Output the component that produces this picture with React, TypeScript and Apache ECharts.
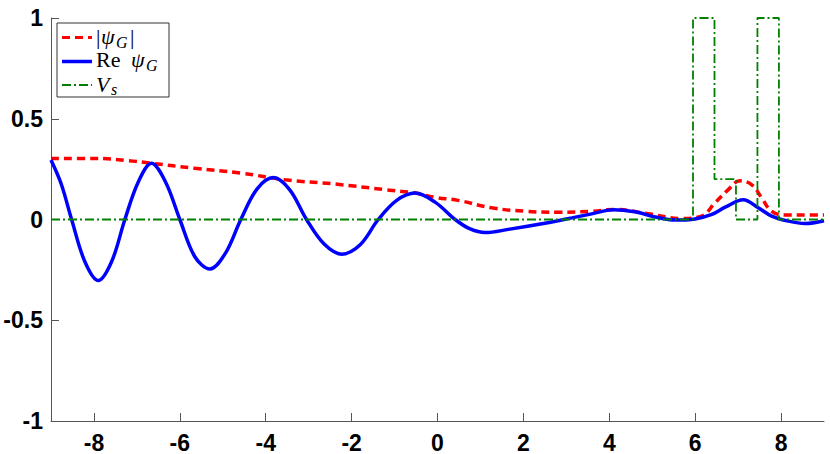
import React, { useEffect, useRef } from "react";
import * as echarts from "echarts";

const xTicks = [-8, -6, -4, -2, 0, 2, 4, 6, 8];

const absPsiX = [-9, -7.98, -7.2, -6.66, -5.65, -4.56, -3.55, -2.39, -1.22, -0.52, -0.06, 0.48, 1.26, 2.04, 2.81, 3.59, 4.13, 4.91, 5.69, 6.15, 6.46, 6.77, 7.04, 7.32, 7.55, 7.78, 8.09, 8.5, 9];
const absPsiY = [0.303, 0.303, 0.292, 0.279, 0.254, 0.23, 0.197, 0.176, 0.148, 0.131, 0.11, 0.095, 0.058, 0.041, 0.036, 0.041, 0.05, 0.028, 0.005, 0.017, 0.082, 0.148, 0.192, 0.172, 0.107, 0.041, 0.022, 0.022, 0.022];

const rePsiX = [-9, -8.76, -8.52, -8.21, -7.9, -7.59, -7.28, -6.97, -6.66, -6.33, -6.0, -5.65, -5.3, -4.94, -4.58, -4.2, -3.82, -3.44, -3.05, -2.64, -2.23, -1.8, -1.38, -0.95, -0.52, -0.05, 0.41, 0.76, 1.11, 1.65, 2.43, 3.13, 3.59, 4.09, 4.6, 5.07, 5.53, 6.0, 6.39, 6.7, 7.12, 7.47, 7.78, 8.17, 8.56, 9];
const rePsiY = [0.295, 0.175, 0.0, -0.21, -0.303, -0.21, 0.0, 0.185, 0.279, 0.185, 0.0, -0.185, -0.246, -0.168, 0.0, 0.152, 0.208, 0.147, 0.0, -0.122, -0.172, -0.125, 0.0, 0.095, 0.131, 0.085, 0.0, -0.047, -0.065, -0.049, -0.021, 0.008, 0.028, 0.049, 0.038, 0.012, -0.003, 0.003, 0.025, 0.061, 0.098, 0.058, 0.017, -0.008, -0.02, -0.006];

const vsX = [-9, 5.95, 5.95, 6.45, 6.45, 6.95, 6.95, 7.45, 7.45, 7.95, 7.95, 9];
const vsY = [0, 0, 1, 1, 0.2, 0.2, 0, 0, 1, 1, 0, 0];

const zip = (xs: number[], ys: number[]) => xs.map((x, i) => [x, ys[i]]);

const axisColor = "#555555";
const labelFont = {
  fontFamily: "'Liberation Sans', Arial, sans-serif",
  fontWeight: "bold" as const,
  fontSize: 23,
  color: "#000",
};

const serif = "'Liberation Serif', 'Times New Roman', serif";

export default function App() {
  const ref = useRef<HTMLDivElement>(null);
  useEffect(() => {
    if (!ref.current) return;
    const chart = echarts.init(ref.current, undefined, { renderer: "svg" });
    const txt = (text: string, x: number, y: number, size: number, italic: boolean) => ({
      type: "text",
      x,
      y,
      style: {
        text,
        font: `${italic ? "italic " : ""}${size}px ${serif}`,
        fill: "#000",
        textAlign: "left",
        textVerticalAlign: "middle",
        lineHeight: size,
      },
      z: 101,
    });
    const legLine = (y: number, color: string, width: number, dash: number[] | null) => ({
      type: "line",
      shape: { x1: 62, y1: y, x2: 92, y2: y },
      style: { stroke: color, lineWidth: width, lineDash: dash || undefined },
      z: 101,
    });
    chart.setOption({
      animation: false,
      backgroundColor: "#fff",
      grid: { left: 51, right: 6, top: 18, bottom: 29, containLabel: false },
      xAxis: {
        type: "value",
        min: -9,
        max: 9,
        axisLine: { show: true, onZero: false, lineStyle: { color: axisColor, width: 1 } },
        axisTick: { show: true, inside: true, length: 8, customValues: xTicks, lineStyle: { color: axisColor } },
        axisLabel: { ...labelFont, margin: 10, customValues: xTicks },
        splitLine: { show: false },
      },
      yAxis: {
        type: "value",
        min: -1,
        max: 1,
        interval: 0.5,
        axisLine: { show: true, onZero: false, lineStyle: { color: axisColor, width: 1 } },
        axisTick: { show: true, inside: true, length: 8, lineStyle: { color: axisColor } },
        axisLabel: { ...labelFont, margin: 8 },
        splitLine: { show: false },
      },
      series: [
        {
          name: "|ψG|",
          type: "line",
          data: zip(absPsiX, absPsiY),
          smooth: 0.4,
          showSymbol: false,
          lineStyle: { color: "#ff0000", width: 3.5, type: [8, 5] },
          z: 2,
        },
        {
          name: "Re ψG",
          type: "line",
          data: zip(rePsiX, rePsiY),
          smooth: 0.35,
          showSymbol: false,
          lineStyle: { color: "#0000ff", width: 3.5 },
          z: 3,
        },
        {
          name: "Vs",
          type: "line",
          data: zip(vsX, vsY),
          showSymbol: false,
          lineStyle: { color: "#008000", width: 1.8, type: [9, 3, 2, 3] },
          z: 4,
        },
      ],
      graphic: [
        {
          type: "rect",
          shape: { x: 57, y: 23, width: 112, height: 74 },
          style: { fill: "#fff", stroke: "#333", lineWidth: 1 },
          z: 100,
        },
        legLine(37.5, "#ff0000", 3, [8, 5]),
        legLine(61.5, "#0000ff", 3.5, null),
        legLine(85, "#008000", 1.8, [9, 3, 2, 3]),
        txt("|", 96, 36.5, 22, false),
        txt("ψ", 101, 36.5, 22, true),
        txt("G", 116, 42, 16, true),
        txt("|", 130, 36.5, 22, false),
        txt("Re", 96, 59.5, 22, false),
        txt("ψ", 131, 59.5, 22, true),
        txt("G", 146, 65.5, 16, true),
        txt("V", 96, 84, 22, true),
        txt("s", 111, 89.5, 16, true),
      ],
    });
    return () => chart.dispose();
  }, []);
  return <div ref={ref} style={{ width: 830, height: 454, position: "absolute", left: 0, top: 0 }} />;
}
